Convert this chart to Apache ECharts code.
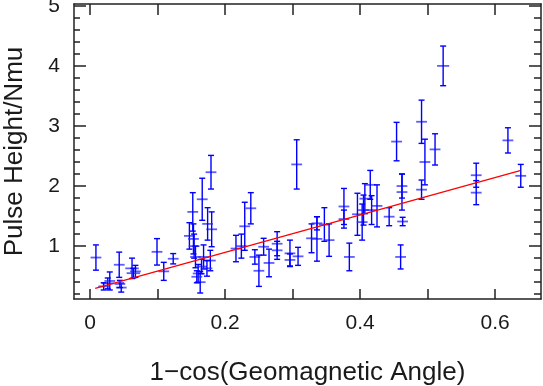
<!DOCTYPE html>
<html>
<head>
<meta charset="utf-8">
<script src="https://cdn.jsdelivr.net/npm/echarts@6/dist/echarts.min.js"></script>
<style>
  html, body { margin: 0; padding: 0; background: #fff; }
  #chart { width: 543px; height: 386px; }
</style>
</head>
<body>
<div id="chart"></div>
<script>
// measured points: x, y, half error in x, half error in y
var xVals = [0.0085, 0.026, 0.029, 0.020, 0.043, 0.046, 0.044, 0.062, 0.067, 0.064,
  0.099, 0.109, 0.123,
  0.179, 0.166, 0.152, 0.180, 0.174, 0.147, 0.153, 0.154, 0.168, 0.178,
  0.156, 0.160, 0.163, 0.165, 0.158, 0.173,
  0.216, 0.224, 0.229, 0.238, 0.244, 0.250, 0.257, 0.265, 0.277, 0.277,
  0.296, 0.296, 0.308, 0.306,
  0.328, 0.336, 0.336, 0.347, 0.354, 0.376, 0.376, 0.384, 0.396, 0.403,
  0.405, 0.407, 0.415, 0.417, 0.425, 0.443, 0.454, 0.462, 0.462, 0.463,
  0.460, 0.491, 0.491, 0.496, 0.511, 0.523, 0.572, 0.572, 0.619, 0.638];
var yVals = [0.81, 0.38, 0.42, 0.33, 0.69, 0.31, 0.37, 0.63, 0.58, 0.55,
  0.905, 0.58, 0.79,
  2.23, 1.78, 1.57, 1.28, 1.37, 1.17, 1.12, 1.00, 0.82, 0.76,
  0.82, 0.545, 0.40, 0.66, 0.49, 0.63,
  0.96, 1.00, 1.33, 1.63, 0.82, 0.59, 0.99, 0.72, 1.04, 0.93,
  0.88, 0.77, 0.83, 2.36,
  1.13, 1.38, 1.12, 1.36, 1.10, 1.66, 1.45, 0.82, 1.53, 1.40,
  1.60, 1.79, 2.02, 1.60, 1.67, 1.49, 2.74, 2.00, 1.90, 1.41,
  0.82, 3.07, 1.94, 2.40, 2.61, 4.00, 2.18, 1.89, 2.76, 2.17];
var xErr = [0.008, 0.009, 0.008, 0.008, 0.008, 0.008, 0.008, 0.010, 0.008, 0.010,
  0.008, 0.008, 0.008,
  0.008, 0.008, 0.008, 0.008, 0.008, 0.008, 0.008, 0.008, 0.008, 0.008,
  0.008, 0.008, 0.008, 0.008, 0.008, 0.008,
  0.008, 0.008, 0.008, 0.008, 0.008, 0.008, 0.008, 0.008, 0.008, 0.008,
  0.008, 0.008, 0.008, 0.008,
  0.008, 0.008, 0.008, 0.008, 0.008, 0.008, 0.008, 0.008, 0.008, 0.008,
  0.008, 0.008, 0.008, 0.008, 0.008, 0.008, 0.008, 0.008, 0.008, 0.008,
  0.008, 0.008, 0.008, 0.008, 0.008, 0.009, 0.008, 0.008, 0.008, 0.008];
var yErr = [0.21, 0.09, 0.15, 0.06, 0.21, 0.075, 0.06, 0.17, 0.10, 0.08,
  0.22, 0.15, 0.086,
  0.28, 0.35, 0.32, 0.29, 0.27, 0.22, 0.25, 0.20, 0.20, 0.17,
  0.18, 0.15, 0.18, 0.12, 0.10, 0.13,
  0.22, 0.20, 0.40, 0.26, 0.12, 0.26, 0.14, 0.23, 0.20, 0.15,
  0.22, 0.10, 0.15, 0.41,
  0.24, 0.11, 0.37, 0.28, 0.27, 0.30, 0.15, 0.23, 0.35, 0.30,
  0.25, 0.25, 0.24, 0.24, 0.35, 0.15, 0.32, 0.20, 0.30, 0.07,
  0.20, 0.36, 0.16, 0.38, 0.26, 0.33, 0.20, 0.20, 0.21, 0.19];

// fitted line ends
var fitX = [0.0074, 0.637];
var fitY = [0.295, 2.255];

var xTicks = [0, 0.1, 0.2, 0.3, 0.4, 0.5, 0.6];
var xLabels = [0, 0.2, 0.4, 0.6];
var yMajor = [1, 2, 3, 4, 5];
var yMinor = [0.2, 0.4, 0.6, 0.8, 1.2, 1.4, 1.6, 1.8, 2.2, 2.4, 2.6, 2.8,
  3.2, 3.4, 3.6, 3.8, 4.2, 4.4, 4.6, 4.8];

var font = "'Liberation Sans', 'DejaVu Sans', sans-serif";
var frame = { show: true, onZero: false, lineStyle: { color: "#222", width: 1.5 } };
var noLine = { show: false, onZero: false };
var xMin = -0.024, xMax = 0.668, yMin = 0.12, yMax = 5.03;

var points = xVals.map(function (x, i) {
  return [x, yVals[i], xErr[i], yErr[i]];
});

function renderItem(params, api) {
  var x = api.value(0), y = api.value(1), xe = api.value(2), ye = api.value(3);
  var c = api.coord([x, y]);
  var l = api.coord([x - xe, y]);
  var r = api.coord([x + xe, y]);
  var t = api.coord([x, y + ye]);
  var b = api.coord([x, y - ye]);
  var cap = 3;
  var solid = { stroke: "#0000ff", lineWidth: 1.4 };
  var soft = { stroke: "rgba(40,40,255,0.75)", lineWidth: 1.8 };
  return {
    type: "group",
    children: [
      { type: "line", shape: { x1: l[0], y1: c[1], x2: r[0], y2: c[1] }, style: soft },
      { type: "line", shape: { x1: c[0], y1: t[1], x2: c[0], y2: b[1] }, style: solid },
      { type: "line", shape: { x1: c[0] - cap, y1: t[1], x2: c[0] + cap, y2: t[1] }, style: solid },
      { type: "line", shape: { x1: c[0] - cap, y1: b[1], x2: c[0] + cap, y2: b[1] }, style: solid }
    ]
  };
}

var chart = echarts.init(document.getElementById("chart"));
chart.setOption({
  animation: false,
  grid: { left: 74, right: 2, top: 4, bottom: 87, containLabel: false, outerBoundsMode: "none" },
  xAxis: [
    {
      type: "value", position: "bottom", min: xMin, max: xMax,
      axisLine: frame,
      axisTick: { show: true, inside: true, length: 10, customValues: xTicks, lineStyle: { color: "#222", width: 1.5 } },
      axisLabel: { customValues: xLabels, color: "#1a1a1a", fontSize: 21, fontFamily: font, margin: 14 },
      splitLine: { show: false },
      name: "1\u2212cos(Geomagnetic Angle)", nameLocation: "middle", nameGap: 61,
      nameTextStyle: { color: "#1a1a1a", fontSize: 26, fontFamily: font }
    },
    {
      type: "value", position: "top", min: xMin, max: xMax,
      axisLine: frame,
      axisTick: { show: true, inside: true, length: 11, customValues: xTicks, lineStyle: { color: "#222", width: 1.5 } },
      axisLabel: { show: false },
      splitLine: { show: false }
    }
  ],
  yAxis: [
    {
      type: "value", position: "left", min: yMin, max: yMax,
      axisLine: frame,
      axisTick: { show: true, inside: true, length: 12, customValues: yMajor, lineStyle: { color: "#222", width: 1.5 } },
      axisLabel: { customValues: yMajor, color: "#1a1a1a", fontSize: 21, fontFamily: font, margin: 14 },
      splitLine: { show: false },
      name: "Pulse Height/Nmu", nameLocation: "middle", nameGap: 46,
      nameTextStyle: { color: "#1a1a1a", fontSize: 26, fontFamily: font }
    },
    {
      type: "value", position: "left", min: yMin, max: yMax,
      axisLine: noLine,
      axisTick: { show: true, inside: true, length: 6, customValues: yMinor, lineStyle: { color: "#222", width: 1.5 } },
      axisLabel: { show: false },
      splitLine: { show: false }
    },
    {
      type: "value", position: "right", min: yMin, max: yMax,
      axisLine: frame,
      axisTick: { show: true, inside: true, length: 12, customValues: yMajor, lineStyle: { color: "#222", width: 1.5 } },
      axisLabel: { show: false },
      splitLine: { show: false }
    },
    {
      type: "value", position: "right", min: yMin, max: yMax,
      axisLine: noLine,
      axisTick: { show: true, inside: true, length: 7, customValues: yMinor, lineStyle: { color: "#222", width: 1.5 } },
      axisLabel: { show: false },
      splitLine: { show: false }
    }
  ],
  series: [
    {
      type: "custom",
      xAxisIndex: 0, yAxisIndex: 0,
      renderItem: renderItem,
      encode: { x: 0, y: 1 },
      data: points,
      z: 2
    },
    {
      type: "line",
      xAxisIndex: 0, yAxisIndex: 0,
      data: fitX.map(function (x, i) { return [x, fitY[i]]; }),
      showSymbol: false,
      lineStyle: { color: "#ff0000", width: 1.3 },
      z: 3
    }
  ]
});
</script>
</body>
</html>
